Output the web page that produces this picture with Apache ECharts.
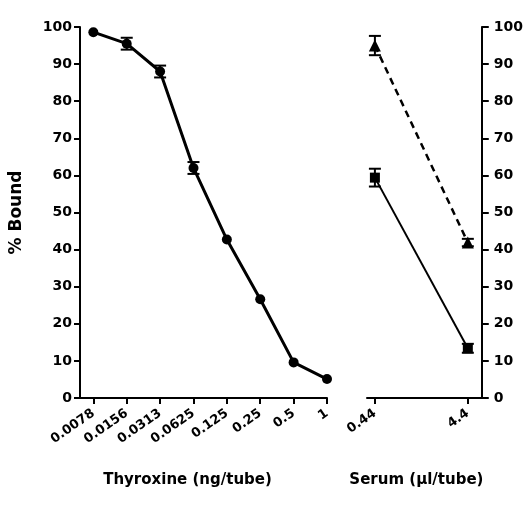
<!DOCTYPE html>
<html>
<head>
<meta charset="utf-8">
<script src="https://cdn.jsdelivr.net/npm/echarts@6/dist/echarts.min.js"></script>
<style>
  html, body { margin: 0; padding: 0; background: #fff; }
  #chart { width: 526px; height: 516px; }
</style>
</head>
<body>
<div id="chart"></div>
<script>
// Thyroxine standard curve (ng/tube)
const doseLabels = ['0.0078', '0.0156', '0.0313', '0.0625', '0.125', '0.25', '0.5', '1'];
const doseBound = [98.6, 95.5, 88.0, 62.0, 42.7, 26.6, 9.6, 5.1];
const doseErr = [0, 1.6, 1.6, 1.6, 0, 0, 0, 0];

// Serum (µl/tube)
const serumLabels = ['0.44', '4.4'];
const serumSquare = [59.4, 13.4];
const serumSquareErr = [2.4, 1.2];
const serumTriangle = [95.0, 41.9];
const serumTriangleErr = [2.6, 1.0];

const font = 'DejaVu Sans, sans-serif';

function withIndex(vals) {
  return vals.map((v, i) => [i, v]);
}
function errData(vals, errs) {
  return vals.map((v, i) => [i, v - errs[i], v + errs[i]]).filter((d, i) => errs[i] > 0);
}
function errorBar(xi, yi, data) {
  return {
    type: 'custom',
    xAxisIndex: xi,
    yAxisIndex: yi,
    z: 5,
    data: data,
    renderItem: function (params, api) {
      const lo = api.coord([api.value(0), api.value(1)]);
      const hi = api.coord([api.value(0), api.value(2)]);
      const w = 6;
      const style = { stroke: '#000', lineWidth: 2 };
      return {
        type: 'group',
        children: [
          { type: 'line', shape: { x1: lo[0], y1: lo[1], x2: hi[0], y2: hi[1] }, style: style },
          { type: 'line', shape: { x1: lo[0] - w, y1: lo[1], x2: lo[0] + w, y2: lo[1] }, style: style },
          { type: 'line', shape: { x1: hi[0] - w, y1: hi[1], x2: hi[0] + w, y2: hi[1] }, style: style }
        ]
      };
    }
  };
}

const axisLine = { show: true, onZero: false, lineStyle: { color: '#000', width: 2 } };
const tickStyle = { lineStyle: { color: '#000', width: 2 } };
const labelStyle = { color: '#000', fontFamily: font, fontWeight: 'bold', fontSize: 14 };
const nameStyle = { color: '#000', fontFamily: font, fontWeight: 'bold', fontSize: 15 };

const chart = echarts.init(document.getElementById('chart'));
const option = {
  animation: false,
  backgroundColor: '#fff',
  grid: [
    { left: 80, top: 27, width: 247, height: 371 },
    { left: 367, top: 27, width: 116, height: 371 }
  ],
  xAxis: [
    {
      gridIndex: 0, type: 'value', min: -0.4, max: 7,
      axisLine: axisLine,
      axisTick: Object.assign({ length: 6, customValues: [0, 1, 2, 3, 4, 5, 6, 7] }, tickStyle),
      axisLabel: Object.assign({}, labelStyle, {
        fontSize: 13, rotate: 35, margin: 14, customValues: [0, 1, 2, 3, 4, 5, 6, 7],
        formatter: v => doseLabels[Math.round(v)]
      }),
      splitLine: { show: false },
      name: 'Thyroxine (ng/tube)', nameLocation: 'middle', nameGap: 75,
      nameTextStyle: Object.assign({}, nameStyle, { padding: [0, 32, 0, 0] })
    },
    {
      gridIndex: 1, type: 'value', min: -0.085, max: 1.15,
      axisLine: axisLine,
      axisTick: Object.assign({ length: 6, customValues: [0, 1] }, tickStyle),
      axisLabel: Object.assign({}, labelStyle, {
        fontSize: 13, rotate: 35, margin: 14, customValues: [0, 1],
        formatter: v => serumLabels[Math.round(v)]
      }),
      splitLine: { show: false },
      name: 'Serum (\u03bcl/tube)', nameLocation: 'middle', nameGap: 75,
      nameTextStyle: Object.assign({}, nameStyle, { padding: [0, 16, 0, 0] })
    }
  ],
  yAxis: [
    {
      gridIndex: 0, type: 'value', min: 0, max: 100, interval: 10,
      axisLine: axisLine,
      axisTick: Object.assign({ length: 6 }, tickStyle),
      axisLabel: Object.assign({}, labelStyle, { margin: 8 }),
      splitLine: { show: false },
      name: '% Bound', nameLocation: 'middle', nameGap: 55, nameRotate: 90,
      nameTextStyle: Object.assign({}, nameStyle, { fontSize: 17 })
    },
    {
      gridIndex: 1, type: 'value', min: 0, max: 100, interval: 10, position: 'right',
      axisLine: axisLine,
      axisTick: Object.assign({ length: 7 }, tickStyle),
      axisLabel: Object.assign({}, labelStyle, { margin: 12 }),
      splitLine: { show: false }
    }
  ],
  series: [
    {
      type: 'line', xAxisIndex: 0, yAxisIndex: 0,
      data: withIndex(doseBound),
      symbol: 'circle', symbolSize: 10,
      lineStyle: { color: '#000', width: 3 },
      itemStyle: { color: '#000' }
    },
    errorBar(0, 0, errData(doseBound, doseErr)),
    {
      type: 'line', xAxisIndex: 1, yAxisIndex: 1,
      data: withIndex(serumSquare),
      symbol: 'rect', symbolSize: 10,
      lineStyle: { color: '#000', width: 2 },
      itemStyle: { color: '#000' }
    },
    errorBar(1, 1, errData(serumSquare, serumSquareErr)),
    {
      type: 'line', xAxisIndex: 1, yAxisIndex: 1,
      data: withIndex(serumTriangle),
      symbol: 'triangle', symbolSize: 12,
      lineStyle: { color: '#000', width: 2.5, type: [7, 5] },
      itemStyle: { color: '#000' }
    },
    errorBar(1, 1, errData(serumTriangle, serumTriangleErr))
  ]
};
chart.setOption(option);
</script>
</body>
</html>
